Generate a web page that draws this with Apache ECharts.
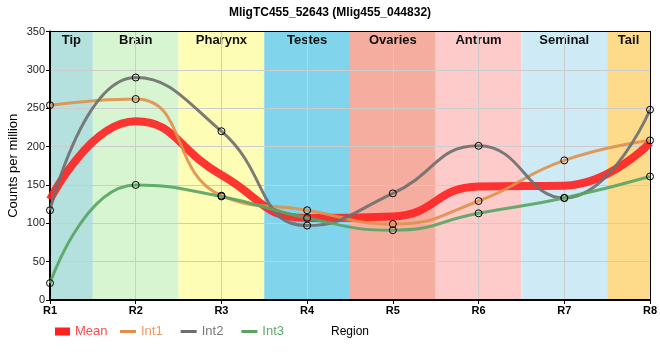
<!DOCTYPE html>
<html><head><meta charset="utf-8">
<script src="https://cdn.jsdelivr.net/npm/echarts@6/dist/echarts.min.js"></script>
<style>html,body{margin:0;padding:0;background:#fff}#c{width:660px;height:360px}</style>
</head><body><div id="c"></div>
<script>
const regions = ['R1','R2','R3','R4','R5','R6','R7','R8'];
const tissues = ['Tip','Brain','Pharynx','Testes','Ovaries','Antrum','Seminal','Tail'];
const tissueColors = ['#b4e1dd','#d8f5d1','#fdfdb5','#80d4eb','#f5ad9f','#fecbcb','#cdeaf5','#fddb8b'];
const mean = [131, 233, 163, 107, 109, 148, 149, 205];
const int1 = [254, 262, 136, 117, 99, 129, 182, 208];
const int2 = [117, 290, 220, 97, 139, 201, 133, 248];
const int3 = [22, 150, 135, 107, 91, 113, 133, 161];
const yMin = 0, yMax = 350, yStep = 50;

const FONT = 'Liberation Sans, Arial, sans-serif';
const colMean = '#ff2020', colInt1 = '#e0904a', colInt2 = '#6e6e6e', colInt3 = '#58a463';

const toXY = arr => arr.map((v, i) => [i + 1, v]);
const bandData = tissues.map((t, i) => [Math.max(1, i + 0.5), Math.min(regions.length, i + 1.5), i]);

function lineSeries(name, arr, color, width, withSymbol, opacity) {
  return {
    name, type: 'line', data: toXY(arr), smooth: true,
    symbol: withSymbol ? 'circle' : 'none', symbolSize: 7, showSymbol: withSymbol,
    lineStyle: { color, width, opacity },
    itemStyle: { color: 'rgba(255,255,255,0)', borderColor: '#000', borderWidth: 1 },
    emphasis: { disabled: true }, z: 2
  };
}

const chart = echarts.init(document.getElementById('c'));
chart.setOption({
  animation: false,
  title: { text: 'MligTC455_52643 (Mlig455_044832)', left: 'center', top: 2,
    textStyle: { fontFamily: FONT, fontSize: 12, fontWeight: 'bold', color: '#000' } },
  grid: { left: 50, right: 10, top: 31.5, bottom: 60, containLabel: false, outerBoundsMode: 'none' },
  legend: [
    { data: [{ name: 'Mean', icon: 'rect', itemStyle: { color: colMean, borderWidth: 0 }, textStyle: { color: '#ff4a4a' } }],
      left: 55, top: 325, padding: 0, itemWidth: 15, itemHeight: 8, itemGap: 18,
      textStyle: { fontFamily: FONT, fontSize: 13 } },
    { data: [
        { name: 'Int1', icon: 'rect', itemStyle: { color: colInt1, borderWidth: 0 }, textStyle: { color: '#eb9a62' } },
        { name: 'Int2', icon: 'rect', itemStyle: { color: colInt2, borderWidth: 0 }, textStyle: { color: '#7a7a7a' } },
        { name: 'Int3', icon: 'rect', itemStyle: { color: colInt3, borderWidth: 0 }, textStyle: { color: '#5fa86f' } }],
      left: 120, top: 325, padding: 0, itemWidth: 16, itemHeight: 3, itemGap: 18,
      textStyle: { fontFamily: FONT, fontSize: 13 } }
  ],
  xAxis: [{
    type: 'value', min: 1, max: regions.length, interval: 1,
    name: 'Region', nameLocation: 'middle', nameGap: 26, nameMoveOverlap: false,
    nameTextStyle: { fontFamily: FONT, fontSize: 12, color: '#000' },
    axisLine: { show: true, onZero: false, lineStyle: { color: '#000', width: 2 } },
    axisTick: { show: true, length: 4, lineStyle: { color: '#000' } },
    axisLabel: { formatter: v => regions[v - 1], fontFamily: FONT, fontSize: 11, fontWeight: 'bold', color: '#000', margin: 5 },
    splitLine: { show: true, lineStyle: { color: '#cccccc', width: 1 } }
  }, {
    type: 'value', position: 'top', min: 1, max: regions.length,
    axisLine: { show: true, onZero: false, lineStyle: { color: '#000', width: 1 } },
    axisTick: { show: false }, axisLabel: { show: false }, splitLine: { show: false }
  }],
  yAxis: [{
    type: 'value', min: yMin, max: yMax, interval: yStep,
    name: 'Counts per million', nameLocation: 'middle', nameGap: 30, nameMoveOverlap: false,
    nameTextStyle: { fontFamily: FONT, fontSize: 13, color: '#000' },
    axisLine: { show: true, lineStyle: { color: '#000', width: 2 } },
    axisTick: { show: true, length: 4, lineStyle: { color: '#000' } },
    axisLabel: { fontFamily: FONT, fontSize: 11, color: '#222', margin: 5 },
    splitLine: { show: true, lineStyle: { color: '#cccccc', width: 1 } }
  }, {
    type: 'value', position: 'right', min: yMin, max: yMax,
    axisLine: { show: true, lineStyle: { color: '#000', width: 1 } },
    axisTick: { show: false }, axisLabel: { show: false }, splitLine: { show: false }
  }],
  series: [
    {
      type: 'custom', name: 'bands', z: -1, silent: true, data: bandData,
      renderItem: function (params, api) {
        const s = api.value(0), e = api.value(1), idx = api.value(2);
        const p0 = api.coord([s, yMax]);
        const p1 = api.coord([e, yMin]);
        return { type: 'group', children: [
          { type: 'rect', shape: { x: p0[0], y: p0[1], width: p1[0] - p0[0], height: p1[1] - p0[1] },
            style: { fill: tissueColors[idx] } },
          { type: 'text', style: { text: tissues[idx], x: (p0[0] + p1[0]) / 2, y: p0[1] + 9,
            align: 'center', verticalAlign: 'middle', fill: '#111',
            font: 'bold 13px ' + FONT } }
        ] };
      }
    },
    lineSeries('Mean', mean, colMean, 8, false, 0.9),
    lineSeries('Int1', int1, colInt1, 3, true, 0.9),
    lineSeries('Int2', int2, colInt2, 3, true, 0.9),
    lineSeries('Int3', int3, colInt3, 3, true, 0.9)
  ]
});
</script></body></html>
